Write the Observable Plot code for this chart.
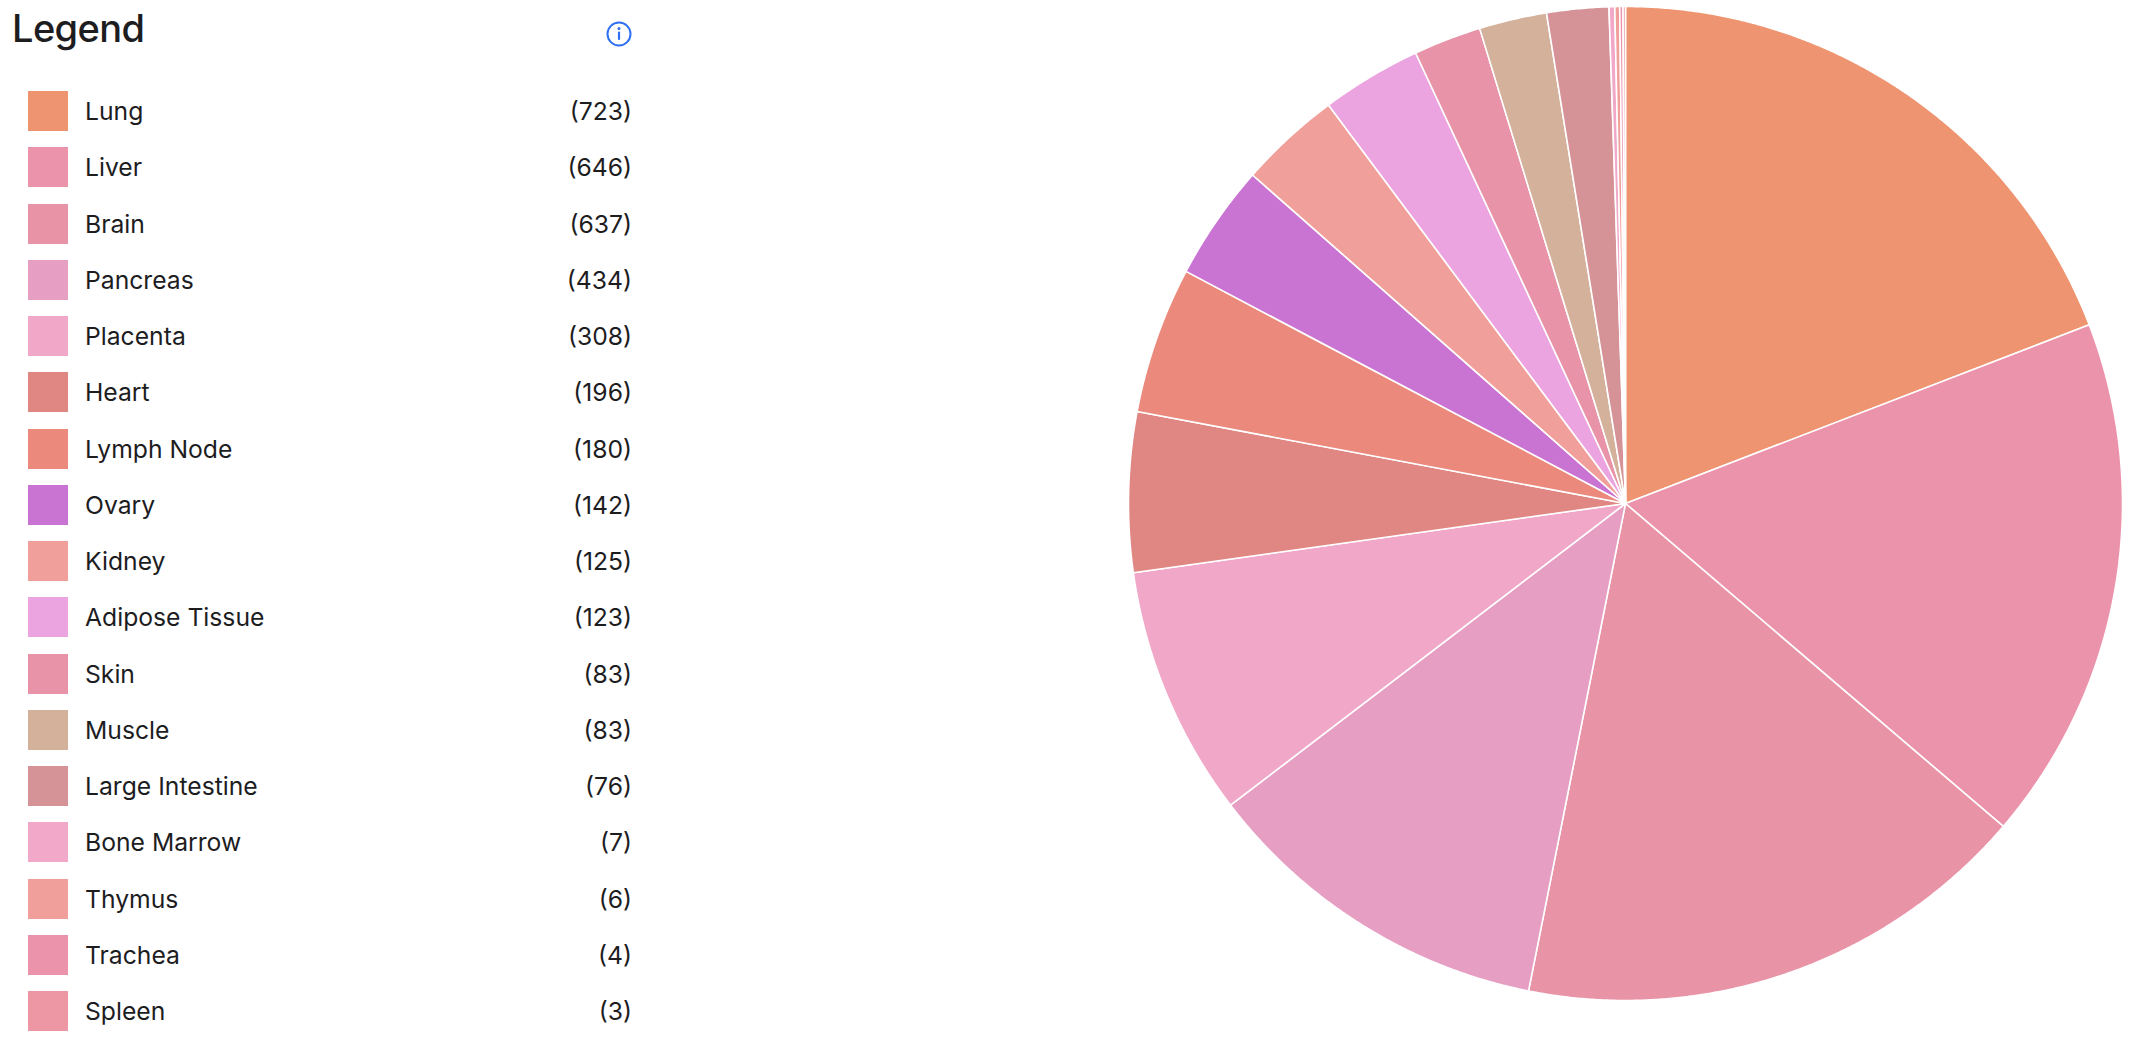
<!DOCTYPE html>
<html>
<head>
<meta charset="utf-8">
<script src="https://cdn.jsdelivr.net/npm/d3@7"></script>
<script src="https://cdn.jsdelivr.net/npm/@observablehq/plot@0.6"></script>
<style>
  html, body { margin: 0; padding: 0; background: #fff; }
  body { width: 2132px; height: 1042px; position: relative; overflow: hidden; font-family: Inter, "Noto Sans", sans-serif; color: #1d1d1f; }
  #title { position: absolute; left: 12px; top: 5px; font-size: 38px; font-weight: 500; letter-spacing: -0.6px; }
  #info { position: absolute; left: 605px; top: 20px; }
  #legend { position: absolute; left: 28px; top: 91px; width: 604px; }
  .row { position: absolute; left: 0; width: 604px; height: 40px; display: flex; align-items: center; font-size: 24.7px; }
  .sw { width: 40px; height: 40px; flex: none; }
  .lab { margin-left: 17px; flex: 1; }
  .val { text-align: right; }
  #pie { position: absolute; left: 1125px; top: 3px; }
</style>
</head>
<body>
<div id="title">Legend</div>
<svg id="info" width="28" height="28" viewBox="0 0 28 28">
  <circle cx="14" cy="14" r="11.5" fill="none" stroke="#2f6ff2" stroke-width="2"/>
  <circle cx="14" cy="8.6" r="1.5" fill="#2f6ff2"/>
  <rect x="12.9" y="11.5" width="2.2" height="8.5" rx="1" fill="#2f6ff2"/>
</svg>
<div id="legend"></div>
<div id="pie"></div>
<script>
const tissues = ["Lung","Liver","Brain","Pancreas","Placenta","Heart","Lymph Node","Ovary","Kidney","Adipose Tissue","Skin","Muscle","Large Intestine","Bone Marrow","Thymus","Trachea","Spleen"];
const counts = [723,646,637,434,308,196,180,142,125,123,83,83,76,7,6,4,3];
const colors = ["#EF9470","#EC93AC","#E893A6","#E69FC3","#F1A8C8","#E08783","#EA897C","#C974D3","#F09F9A","#ECA4E0","#E893A7","#D4B19B","#D59297","#F2A8C8","#F09F9A","#EC93AC","#ED97A5"];

// Legend
const legend = document.getElementById("legend");
tissues.forEach((t, i) => {
  const row = document.createElement("div");
  row.className = "row";
  row.style.top = (i * 56.25) + "px";
  row.innerHTML = `<div class="sw" style="background:${colors[i]}"></div><div class="lab">${t}</div><div class="val">(${counts[i]})</div>`;
  legend.appendChild(row);
});

// Pie slices as polygons in unit coordinates, clockwise from 12 o'clock
const data = tissues.map((t, i) => ({tissue: t, value: counts[i]}));
const arcs = d3.pie().sort(null).value(d => d.value)(data);
const pts = [];
arcs.forEach(a => {
  const name = a.data.tissue;
  pts.push({tissue: name, x: 0, y: 0});
  const n = Math.max(2, Math.ceil((a.endAngle - a.startAngle) / 0.005));
  for (let k = 0; k <= n; k++) {
    const ang = a.startAngle + (a.endAngle - a.startAngle) * k / n;
    pts.push({tissue: name, x: Math.sin(ang), y: Math.cos(ang)});
  }
  pts.push({tissue: name, x: 0, y: 0});
});

const chart = Plot.plot({
  width: 1000,
  height: 1000,
  margin: 3,
  x: {domain: [-1, 1], axis: null},
  y: {domain: [-1, 1], axis: null},
  color: {domain: tissues, range: colors},
  marks: [
    Plot.line(pts, {x: "x", y: "y", z: "tissue", fill: "tissue", stroke: "white", strokeWidth: 1.6, strokeLinejoin: "round", curve: "linear"})
  ]
});
document.getElementById("pie").appendChild(chart);
</script>
</body>
</html>
